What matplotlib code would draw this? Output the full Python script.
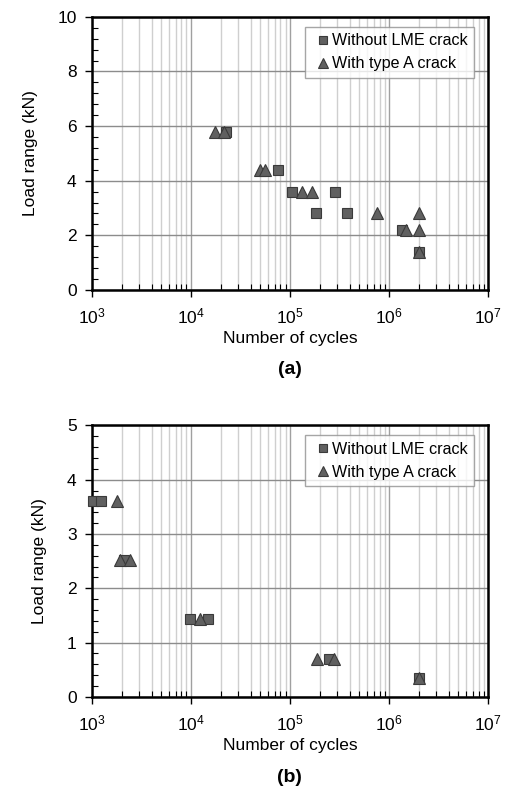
import matplotlib
matplotlib.use("Agg")
import matplotlib.pyplot as plt
from matplotlib.ticker import LogLocator, MultipleLocator, FixedLocator
import numpy as np

plt.rcParams['font.family'] = ['Liberation Sans', 'DejaVu Sans']

# Panel (a)
a_sq_x = [2.25e4, 7.6e4, 1.05e5, 2.85e5, 1.83e5, 3.73e5, 1.34e6, 2.0e6]
a_sq_y = [5.8, 4.4, 3.6, 3.6, 2.8, 2.8, 2.2, 1.4]
a_tr_x = [1.75e4, 2.15e4, 5.0e4, 5.6e4, 1.31e5, 1.65e5, 7.5e5, 2.0e6, 1.47e6, 2.0e6, 2.0e6]
a_tr_y = [5.8, 5.8, 4.4, 4.4, 3.6, 3.6, 2.8, 2.8, 2.2, 2.2, 1.4]

# Panel (b)
b_sq_x = [1.02e3, 1.23e3, 2.1e3, 9.8e3, 1.48e4, 2.5e5, 2.0e6]
b_sq_y = [3.6, 3.6, 2.52, 1.43, 1.43, 0.7, 0.35]
b_tr_x = [1.8e3, 1.9e3, 2.45e3, 1.23e4, 1.86e5, 2.75e5, 2.0e6]
b_tr_y = [3.6, 2.52, 2.52, 1.43, 0.7, 0.7, 0.35]

x_ticks = [1e3, 1e4, 1e5, 1e6, 1e7]
x_ticklabels = [r'$\mathregular{10^{3}}$', r'$\mathregular{10^{4}}$', r'$\mathregular{10^{5}}$',
                r'$\mathregular{10^{6}}$', r'$\mathregular{10^{7}}$']

labels = ['Without LME crack', 'With type A crack']

fig = plt.figure(figsize=(5.08, 8.01), dpi=100)

FILL = '#606060'
EDGE = '#3a3a3a'


def setup(ax, ymax, ymajor, yminor, sqx, sqy, trx, try_):
    ax.set_xscale('log')
    ax.set_xlim(1e3, 1e7)
    ax.set_ylim(0, ymax)
    ax.xaxis.set_major_locator(FixedLocator(x_ticks))
    ax.set_xticklabels(x_ticklabels)
    ax.xaxis.set_minor_locator(LogLocator(base=10, subs=np.arange(2, 10)))
    ax.xaxis.set_minor_formatter(plt.NullFormatter())
    ax.yaxis.set_major_locator(MultipleLocator(ymajor))
    ax.yaxis.set_minor_locator(MultipleLocator(yminor))
    ax.grid(which='minor', axis='x', color='#cfcfcf', lw=1.0)
    ax.grid(which='major', axis='x', color='#a0a0a0', lw=1.0)
    ax.grid(which='major', axis='y', color='#8c8c8c', lw=1.0)
    ax.set_axisbelow(True)
    for s in ax.spines.values():
        s.set_linewidth(1.8)
        s.set_color('black')
    ax.tick_params(which='major', direction='out', length=5, width=1, labelsize=12.5,
                   pad=6)
    ax.tick_params(which='minor', direction='in', length=4, width=0.8)
    ax.tick_params(axis='x', which='major', pad=7)
    ax.plot(sqx, sqy, ls='none', marker='s', ms=7.5, mfc=FILL, mec=EDGE, mew=0.8,
            label=labels[0], zorder=3, clip_on=False)
    ax.plot(trx, try_, ls='none', marker='^', ms=8.5, mfc=FILL, mec=EDGE, mew=0.8,
            label=labels[1], zorder=4, clip_on=False)
    ax.set_xlabel('Number of cycles', fontsize=12.5, labelpad=3)
    ax.set_ylabel('Load range (kN)', fontsize=12.5, labelpad=14)
    leg = ax.legend(loc='upper right', bbox_to_anchor=(0.965, 0.963), fontsize=11.6,
                    frameon=True, fancybox=False, edgecolor='#909090',
                    handlelength=1.5, handletextpad=-0.2, markerscale=0.85,
                    borderpad=0.4, labelspacing=0.5, borderaxespad=0)
    leg.get_frame().set_linewidth(1.0)


ax1 = fig.add_axes([0.181, 0.638, 0.780, 0.341])
setup(ax1, 10, 2, 0.4, a_sq_x, a_sq_y, a_tr_x, a_tr_y)
ax2 = fig.add_axes([0.181, 0.130, 0.780, 0.339])
setup(ax2, 5, 1, 0.2, b_sq_x, b_sq_y, b_tr_x, b_tr_y)

fig.text(0.57, 1 - 370 / 801, '(a)', ha='center', va='center', fontsize=14, fontweight='bold')
fig.text(0.57, 1 - 778 / 801, '(b)', ha='center', va='center', fontsize=14, fontweight='bold')

fig.savefig('out.png', dpi=100)
